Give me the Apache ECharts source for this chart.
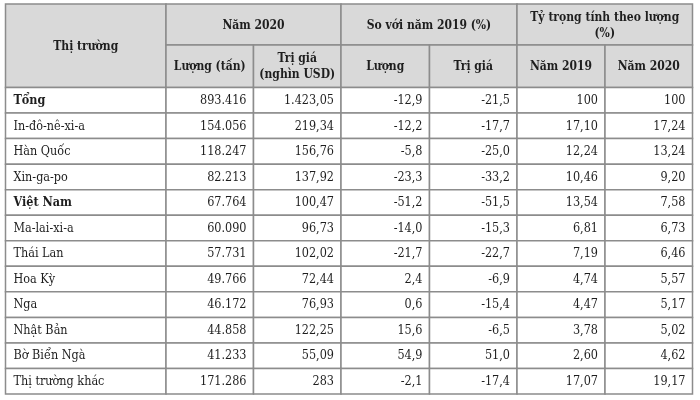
<!DOCTYPE html>
<html><head><meta charset="utf-8">
<script src="https://cdn.jsdelivr.net/npm/echarts@6/dist/echarts.min.js"></script>
<style>html,body{margin:0;padding:0;background:#fff}#c{width:700px;height:400px}</style>
</head><body><div id="c"></div>
<script>
// ---- data ----
var markets = ['Tổng','In-đô-nê-xi-a','Hàn Quốc','Xin-ga-po','Việt Nam','Ma-lai-xi-a','Thái Lan','Hoa Kỳ','Nga','Nhật Bản','Bờ Biển Ngà','Thị trường khác'];
var boldMarkets = ['Tổng','Việt Nam'];
var volume2020 = [893416,154056,118247,82213,67764,60090,57731,49766,46172,44858,41233,171286];
var value2020 = [1423.05,219.34,156.76,137.92,100.47,96.73,102.02,72.44,76.93,122.25,55.09,283];
var volChange = [-12.9,-12.2,-5.8,-23.3,-51.2,-14.0,-21.7,2.4,0.6,15.6,54.9,-2.1];
var valChange = [-21.5,-17.7,-25.0,-33.2,-51.5,-15.3,-22.7,-6.9,-15.4,-6.5,51.0,-17.4];
var share2019 = [100,17.10,12.24,10.46,13.54,6.81,7.19,4.74,4.47,3.78,2.60,17.07];
var share2020 = [100,17.24,13.24,9.20,7.58,6.73,6.46,5.57,5.17,5.02,4.62,19.17];
var headerTop = [
  {text:'Thị trường', c0:0, c1:1, rowSpan:2},
  {text:'Năm 2020', c0:1, c1:3},
  {text:'So với năm 2019 (%)', c0:3, c1:5},
  {text:'Tỷ trọng tính theo lượng\n(%)', c0:5, c1:7}
];
var headerSub = ['Lượng (tấn)','Trị giá\n(nghìn USD)','Lượng','Trị giá','Năm 2019','Năm 2020'];

// ---- layout / style ----
var FONT = '"DejaVu Serif Condensed","DejaVu Serif",serif';
var FS_HEAD = 12, FS_BODY = 12.5;
var TXT = '#1e1e1e';
var LINE = '#8c8c8c';
var HEAD_BG = '#d9d9d9';
var LEFT = 5.5, TOP = 4, H1 = 41, H2 = 42.5, TABLE_W = 687, BODY_H = 306.5;
var colEdges = [0,160.5,248,335.5,424,511.5,599.5,687];
// decimals per numeric column, and whether integers drop decimals
var colDecimals = [0,2,1,1,2,2];
var colDropInt = [false,true,false,false,true,true];

function fmt(v, dec, dropInt){
  if (dropInt && Number.isInteger(v)) dec = 0;
  var neg = v < 0; var s = Math.abs(v).toFixed(dec);
  var parts = s.split('.');
  var ip = parts[0].replace(/\B(?=(\d{3})+(?!\d))/g, '.');
  return (neg?'-':'') + ip + (parts[1] ? ',' + parts[1] : '');
}

var rows = markets.map(function(m,i){
  return [0, i, volume2020[i], value2020[i], volChange[i], valChange[i], share2019[i], share2020[i]];
});

// header graphics
var gfx = [];
function hx(c){ return LEFT + colEdges[c]; }
headerTop.forEach(function(h){
  var x0 = hx(h.c0), x1 = hx(h.c1);
  var hh = h.rowSpan ? H1 + H2 : H1;
  gfx.push({type:'rect', shape:{x:x0,y:TOP,width:x1-x0,height:hh}, style:{fill:HEAD_BG, stroke:LINE, lineWidth:1.5}, z:1});
  gfx.push({type:'text', x:(x0+x1)/2, y:TOP+hh/2+1.5, style:{text:h.text, align:'center', verticalAlign:'middle', fill:TXT, font:'bold '+FS_HEAD+'px '+FONT, lineHeight:16}, z:2});
});
headerSub.forEach(function(t,k){
  var x0 = hx(k+1), x1 = hx(k+2);
  gfx.push({type:'rect', shape:{x:x0,y:TOP+H1,width:x1-x0,height:H2}, style:{fill:HEAD_BG, stroke:LINE, lineWidth:1.5}, z:1});
  gfx.push({type:'text', x:(x0+x1)/2, y:TOP+H1+H2/2+1, style:{text:t, align:'center', verticalAlign:'middle', fill:TXT, font:'bold '+FS_HEAD+'px '+FONT, lineHeight:16}, z:2});
});

var chart = echarts.init(document.getElementById('c'), null, {renderer:'canvas'});
chart.setOption({
  animation:false,
  backgroundColor:'#fff',
  grid:{left:LEFT, top:TOP+H1+H2, width:TABLE_W, height:BODY_H, containLabel:false},
  xAxis:{type:'value', min:0, max:TABLE_W, show:false},
  yAxis:{type:'category', data:markets, inverse:true, show:false},
  graphic: gfx,
  series:[{
    type:'custom',
    data: rows,
    encode:{x:0, y:1},
    renderItem:function(params, api){
      var i = api.value(1);
      var p = api.coord([0, i]);
      var rh = api.size([0,1])[1];
      var y0 = p[1] - rh/2;
      var children = [];
      for (var c=0;c<7;c++){
        var x0 = api.coord([colEdges[c], i])[0];
        var x1 = api.coord([colEdges[c+1], i])[0];
        children.push({type:'rect', shape:{x:x0,y:y0,width:x1-x0,height:rh}, style:{fill:'#fff', stroke:LINE, lineWidth:1.5}});
        var text, align, tx, weight = 'normal';
        if (c===0){
          text = markets[i]; align='left'; tx = x0+8;
          if (boldMarkets.indexOf(text)>=0) weight='bold';
        } else {
          text = fmt(api.value(c+1), colDecimals[c-1], colDropInt[c-1]); align='right'; tx = x1-7;
        }
        children.push({type:'text', x:tx, y:p[1]+0.5, style:{text:text, align:align, verticalAlign:'middle', fill:TXT, font:weight+' '+FS_BODY+'px '+FONT}, z2:5});
      }
      return {type:'group', children:children};
    }
  }]
});
</script></body></html>
